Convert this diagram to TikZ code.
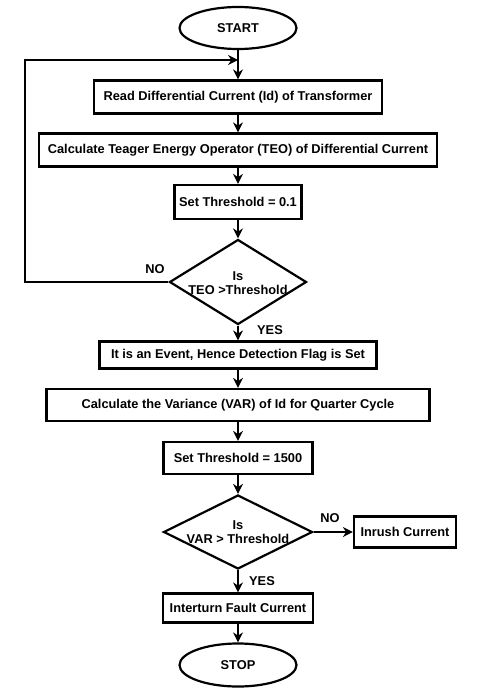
\documentclass[tikz,border=0pt]{standalone}
\usepackage{fontspec}
\setmainfont{Liberation Sans}
\usetikzlibrary{shapes.geometric,arrows.meta}
\begin{document}
\begin{tikzpicture}[x=1pt,y=-1pt,
  every node/.style={font=\fontsize{12.8}{14.5}\selectfont\bfseries},
  box/.style={draw,line width=2.2pt,rectangle,inner sep=0pt},
  term/.style={draw,line width=2.2pt,ellipse,inner sep=0pt},
  dia/.style={draw,line width=2.2pt,diamond,inner sep=0pt},
  conn/.style={line width=2.2pt,-{Stealth[length=10pt,width=10pt]}},
  lbl/.style={inner sep=0pt}]
\useasboundingbox (0,0) rectangle (480,693);
\fill[white] (0,0) rectangle (480,693);
\node[term,minimum width=117pt,minimum height=42pt] (start) at (238,28) {START};
\node[box,minimum width=288pt,minimum height=33pt] (b1) at (238,97) {Read Differential Current (Id) of Transformer};
\node[box,minimum width=398pt,minimum height=33pt] (b2) at (238,150) {Calculate Teager Energy Operator (TEO) of Differential Current};
\node[box,minimum width=127pt,minimum height=34pt] (b3) at (238,202) {Set Threshold = 0.1};
\node[dia,minimum width=137pt,minimum height=85pt] (d1) at (238,282) {};
\node[lbl,align=center] at (238,283) {Is\\TEO >Threshold};
\node[box,minimum width=277pt,minimum height=27pt] (b4) at (238,355) {It is an Event, Hence Detection Flag is Set};
\node[box,minimum width=383pt,minimum height=32pt] (b5) at (238,405) {Calculate the Variance (VAR) of Id for Quarter Cycle};
\node[box,minimum width=149pt,minimum height=32pt] (b6) at (238,458) {Set Threshold = 1500};
\node[dia,minimum width=149pt,minimum height=74pt] (d2) at (238,532) {};
\node[lbl,align=center] at (238,532) {Is\\VAR > Threshold};
\node[box,minimum width=102pt,minimum height=31pt] (inr) at (405,532) {Inrush Current};
\node[box,minimum width=150pt,minimum height=29pt] (b7) at (238,608) {Interturn Fault Current};
\node[term,minimum width=117pt,minimum height=43pt] (stop) at (238,665) {STOP};
\coordinate (j) at (238,60);
\coordinate (c1) at (25,282);
\coordinate (c2) at (25,60);
\draw[line width=2.2pt] (start) -- (j);
\draw[conn] (j) -- (b1);
\draw[conn] (b1) -- (b2);
\draw[conn] (b2) -- (b3);
\draw[conn] (b3) -- (d1);
\draw[conn] (d1.west) -- (c1) -- (c2) -- (j);
\draw[conn] (d1) -- (b4);
\draw[conn] (b4) -- (b5);
\draw[conn] (b5) -- (b6);
\draw[conn] (b6) -- (d2);
\draw[conn] (d2.east) -- (inr);
\draw[conn] (d2) -- (b7);
\draw[conn] (b7) -- (stop);
\node[lbl] (no1) at (155,269) {NO};
\node[lbl] (yes1) at (270,330) {YES};
\node[lbl] (no2) at (330,518) {NO};
\node[lbl] (yes2) at (262,581) {YES};
\end{tikzpicture}
\end{document}
